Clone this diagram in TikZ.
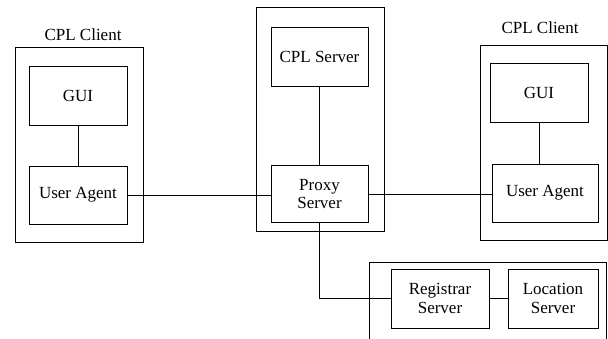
\documentclass[tikz,border=0pt]{standalone}
\usepackage{fontspec}
\setmainfont{Liberation Serif}
\begin{document}
\begin{tikzpicture}[x=1pt,y=-1pt,
  box/.style={draw, line width=1pt, rectangle, inner sep=0pt, align=center,
    font=\fontsize{17}{18.5}\selectfont},
  frame/.style={draw, line width=1pt, rectangle, inner sep=0pt},
  link/.style={line width=0.9pt},
  title/.style={font=\fontsize{17}{18.5}\selectfont, inner sep=0pt}]
\useasboundingbox (0,0) rectangle (608,338);
% left client
\node[frame, minimum width=128pt, minimum height=195pt] (lc) at (79,144.5) {};
\node[title] (lct) at (83,35) {CPL Client};
\node[box, minimum width=98pt, minimum height=59pt] (lgui) at (78,95.5) {GUI};
\node[box, minimum width=98pt, minimum height=58pt] (lua) at (78,195) {User Agent};
% middle
\node[frame, minimum width=128pt, minimum height=224pt] (mid) at (320,119) {};
\node[box, minimum width=97pt, minimum height=59pt] (cpl) at (319.5,56.5) {CPL Server};
\node[box, minimum width=97pt, minimum height=57pt] (proxy) at (319.5,194) {Proxy\\Server};
% right client
\node[frame, minimum width=127pt, minimum height=195pt] (rc) at (543.5,142.5) {};
\node[title] (rct) at (540,28) {CPL Client};
\node[box, minimum width=98pt, minimum height=59pt] (rgui) at (539,92.5) {GUI};
\node[box, minimum width=106pt, minimum height=58pt] (rua) at (545,193) {User Agent};
% bottom
\draw[line width=1pt] (369,340) -- (369,262) -- (606,262) -- (606,340);
\node[box, minimum width=98pt, minimum height=59pt] (reg) at (440,298.5) {Registrar\\Server};
\node[box, minimum width=90pt, minimum height=59pt] (loc) at (553,298.5) {Location\\Server};
% connectors
\draw[link] (lgui) -- (lua);
\draw[link] (rgui.south) -- (rgui.south |- rua.north);
\draw[link] (cpl) -- (proxy);
\draw[link] (lua.east) -- (lua.east -| proxy.west);
\draw[link] (proxy.east) -- (proxy.east -| rua.west);
\draw[link] (proxy.south) |- (reg.west);
\draw[link] (reg) -- (loc);
\end{tikzpicture}
\end{document}
